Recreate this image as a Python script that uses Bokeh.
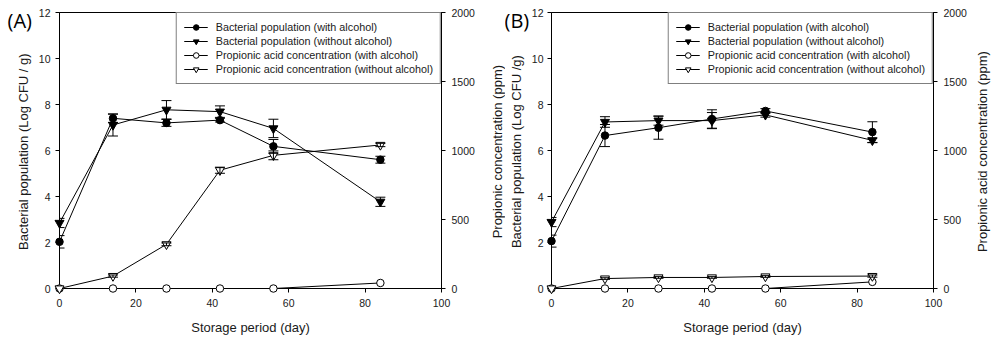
import math
from bokeh.plotting import figure
from bokeh.models import (Range1d, LinearAxis, FixedTicker, Whisker, TeeHead,
                          ColumnDataSource, Legend, LegendItem)
from bokeh.layouts import row
from bokeh.embed import file_html
from bokeh.resources import INLINE
from bokeh.core.properties import value

# ---------------- data ----------------
days = [0, 14, 28, 42, 56, 84]
x_ticks = [0, 20, 40, 60, 80, 100]
y_ticks = [0, 2, 4, 6, 8, 10, 12]
y2_ticks = [0, 500, 1000, 1500, 2000]

legend_labels = ["Bacterial population (with alcohol)",
                 "Bacterial population (without alcohol)",
                 "Propionic acid concentration (with alcohol)",
                 "Propionic acid concentration (without alcohol)"]

# Panel A
a_bact_alc = [2.03, 7.40, 7.20, 7.32, 6.18, 5.60]
a_bact_alc_err = [0.27, 0.18, 0.15, 0.08, 0.30, 0.15]
a_bact_noalc = [2.85, 7.11, 7.77, 7.69, 6.96, 3.77]
a_bact_noalc_err = [0.20, 0.48, 0.40, 0.25, 0.40, 0.20]
a_prop_alc = [0, 0, 0, 0, 0, 40]
a_prop_alc_err = [0, 0, 0, 0, 0, 0]
a_prop_noalc = [0, 90, 320, 857, 965, 1040]
a_prop_noalc_err = [0, 8, 10, 22, 32, 12]

# Panel B
b_bact_alc = [2.06, 6.65, 6.99, 7.37, 7.72, 6.80]
b_bact_alc_err = [0.26, 0.48, 0.50, 0.40, 0.10, 0.45]
b_bact_noalc = [2.89, 7.24, 7.30, 7.30, 7.55, 6.44]
b_bact_noalc_err = [0.20, 0.23, 0.20, 0.35, 0.10, 0.10]
b_prop_alc = [0, 0, 0, 0, 0, 48]
b_prop_alc_err = [0, 0, 0, 0, 0, 0]
b_prop_noalc = [0, 72, 80, 80, 87, 90]
b_prop_noalc_err = [0, 6, 6, 6, 6, 8]

FONT = "Liberation Sans"
TXT = "#1a1a1a"


def style_axis(ax, tick_standoff, label_standoff=8):
    ax.axis_line_color = "black"
    ax.axis_line_width = 1
    ax.major_tick_line_color = "black"
    ax.major_tick_out = 4
    ax.major_tick_in = 0
    ax.minor_tick_line_color = None
    ax.major_label_text_font = FONT
    ax.major_label_text_font_size = "10.5px"
    ax.major_label_text_color = TXT
    ax.major_label_standoff = tick_standoff
    ax.axis_label_text_font = FONT
    ax.axis_label_text_font_size = "13px"
    ax.axis_label_text_font_style = "normal"
    ax.axis_label_text_color = TXT
    ax.axis_label_standoff = label_standoff


def add_series(p, y, err, marker, size, fill, name, range_name):
    kw = {} if range_name is None else {"y_range_name": range_name}
    if any(e > 0 for e in err):
        xs = [d for d, e in zip(days, err) if e > 0]
        lo = [v - e for v, e in zip(y, err) if e > 0]
        hi = [v + e for v, e in zip(y, err) if e > 0]
        src = ColumnDataSource(dict(x=xs, lo=lo, hi=hi))
        w = Whisker(source=src, base="x", lower="lo", upper="hi", dimension="height",
                    line_color="black", line_width=1,
                    upper_head=TeeHead(size=10, line_color="black", line_width=1),
                    lower_head=TeeHead(size=10, line_color="black", line_width=1),
                    level="overlay", **kw)
        p.add_layout(w)
    l = p.line(days, y, line_color="black", line_width=1, level="overlay", **kw)
    s = p.scatter(days, y, marker=marker, size=size, fill_color=fill,
                  line_color="black", line_width=1, level="overlay", **kw)
    return LegendItem(label=name, renderers=[l, s])


def make_panel(tag, series, ylab, y2lab, border_left, frame_w, border_right,
               tag_px, ylab_px, y2lab_px, left_tick_standoff):
    p = figure(frame_width=frame_w, frame_height=276,
               min_border_left=border_left, min_border_right=border_right,
               min_border_top=12, min_border_bottom=48,
               x_range=Range1d(0, 100), y_range=Range1d(0, 12),
               output_backend="svg", toolbar_location=None, tools="")
    p.extra_y_ranges = {"ppm": Range1d(0, 2000)}
    p.grid.visible = False
    p.outline_line_color = "black"
    p.outline_line_width = 1
    p.background_fill_color = "white"
    p.border_fill_color = "white"

    p.xaxis.ticker = FixedTicker(ticks=x_ticks)
    p.xaxis.axis_label = "Storage period (day)"
    style_axis(p.xaxis[0], 6, 10)

    p.yaxis.ticker = FixedTicker(ticks=y_ticks)
    style_axis(p.yaxis[0], left_tick_standoff)

    ax2 = LinearAxis(y_range_name="ppm", ticker=FixedTicker(ticks=y2_ticks))
    style_axis(ax2, 6)
    p.add_layout(ax2, "right")

    items = []
    (ba, bae), (bn, bne), (pa, pae), (pn, pne) = series
    items.append(add_series(p, ba, bae, "circle", 7.5, "black", legend_labels[0], None))
    items.append(add_series(p, bn, bne, "inverted_triangle", 9, "black", legend_labels[1], None))
    items.append(add_series(p, pa, pae, "circle", 7.5, "white", legend_labels[2], "ppm"))
    items.append(add_series(p, pn, pne, "inverted_triangle", 9, "white", legend_labels[3], "ppm"))

    leg = Legend(items=items, location="top_right", margin=0, padding=7, spacing=0,
                 glyph_width=24, glyph_height=14, label_height=14, label_standoff=8,
                 label_text_font=FONT, label_text_font_size="10.8px", label_text_color=TXT,
                 border_line_color="black", border_line_width=1,
                 background_fill_color="white", background_fill_alpha=1)
    p.add_layout(leg)

    # outer texts (panel tag and rotated y-axis titles), placed outside the frame
    ppu = frame_w / 100.0
    p.text(x=[tag_px / ppu], y=[11.65], text=[tag], text_font=value("Open Sans"),
           text_font_size="20px", text_baseline="middle", text_align="left",
           text_color="black", level="overlay")
    p.text(x=[ylab_px / ppu], y=[5.95], text=[ylab], angle=math.pi / 2,
           text_font=value(FONT), text_font_size="13px", text_baseline="middle",
           text_align="center", text_color=TXT, level="overlay")
    p.text(x=[y2lab_px / ppu], y=[5.95], text=[y2lab], angle=math.pi / 2,
           text_font=value(FONT), text_font_size="13px", text_baseline="middle",
           text_align="center", text_color=TXT, level="overlay")
    return p


pA = make_panel("(A)",
                [(a_bact_alc, a_bact_alc_err), (a_bact_noalc, a_bact_noalc_err),
                 (a_prop_alc, a_prop_alc_err), (a_prop_noalc, a_prop_noalc_err)],
                "Bacterial population (Log CFU / g)", "Propionic concentration (ppm)",
                59, 382, 64, -52, -36, 438, 5)
pB = make_panel("(B)",
                [(b_bact_alc, b_bact_alc_err), (b_bact_noalc, b_bact_noalc_err),
                 (b_prop_alc, b_prop_alc_err), (b_prop_noalc, b_prop_noalc_err)],
                "Bacterial population (Log CFU /g)", "Propionic acid concentration (ppm)",
                46, 382, 59, -47, -35, 431, 4)

layout = row(pA, pB)
open("out.html", "w").write(file_html(layout, INLINE))
